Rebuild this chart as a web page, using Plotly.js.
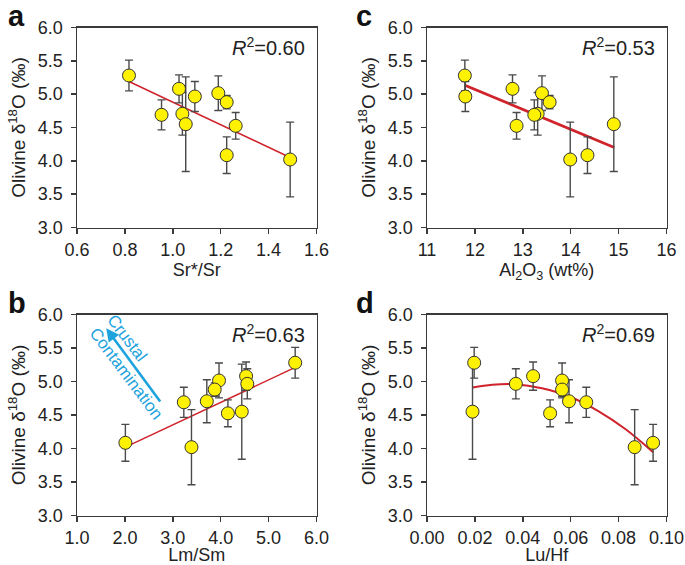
<!DOCTYPE html>
<html>
<head>
<meta charset="utf-8">
<script src="https://cdn.plot.ly/plotly-3.0.1.min.js"></script>
<style>
html,body{margin:0;padding:0;background:#fff;}
#chart{width:685px;height:565px;}
</style>
</head>
<body>
<div id="chart"></div>
<script>
// Samples (same 11 samples in every panel)
const d18O   = [5.28, 5.08, 5.015, 4.965, 4.88, 4.705, 4.69, 4.55, 4.525, 4.085, 4.02];
const d18Oerr = [0.23, 0.21, 0.26, 0.225, 0.10, 0.32, 0.225, 0.71, 0.20, 0.275, 0.56];
const srRatio = [0.817, 1.026, 1.19, 1.092, 1.225, 1.04, 0.953, 1.054, 1.2625, 1.225, 1.49];
const al2o3   = [11.79, 12.785, 13.40, 11.80, 13.56, 13.31, 13.24, 14.90, 12.87, 14.35, 13.99];
const lmSm    = [5.555, 4.53, 3.965, 4.555, 3.875, 3.71, 3.23, 4.44, 4.15, 2.01, 3.39];
const luHf    = [0.0197, 0.0443, 0.0564, 0.0371, 0.0564, 0.0593, 0.0665, 0.019, 0.0514, 0.0944, 0.0867];

// Fit lines
const fitA_x = [0.817, 1.49],  fitA_y = [5.19, 4.05];
const fitC_x = [11.79, 14.91], fitC_y = [5.135, 4.20];
const fitB_x = [2.01, 5.555],  fitB_y = [4.02, 5.21];
const fitD_x = [0.019, 0.0272, 0.0369, 0.048, 0.0592, 0.0717, 0.0828, 0.0944];
const fitD_y = [4.91, 4.952, 4.96, 4.90, 4.78, 4.555, 4.29, 3.945];

const r2Labels = ['0.60', '0.53', '0.63', '0.69'];
const panelLetters = ['a', 'c', 'b', 'd'];
const xTitles = ['Sr*/Sr', 'Al<sub>2</sub>O<sub>3</sub> (wt%)', 'Lm/Sm', 'Lu/Hf'];
const yTitle = 'Olivine δ<sup>18</sup>O (‰)';

const W = 685, H = 565;
const FONT = 'Liberation Sans, Arial, Helvetica, sans-serif';
const LINE = '#3a3a3a';
const RED = '#d0232b';
const YEL = '#fff200';
const ERR = '#4a4a4a';
const FS = 18;

const px2x = p => p / W;
const px2y = p => 1 - p / H;
const colX = [[77, 316.5], [427, 666.5]];
const rowY = [[27.5, 227.5], [314.5, 515.5]];

const panels = [
  {xs: srRatio, fx: fitA_x, fy: fitA_y, col: 0, row: 0, range: [0.6, 1.6], dtick: 0.2, fmt: '.1f', lw: 1.5},
  {xs: al2o3,   fx: fitC_x, fy: fitC_y, col: 1, row: 0, range: [11, 16],  dtick: 1,   fmt: 'd',   lw: 2.8},
  {xs: lmSm,    fx: fitB_x, fy: fitB_y, col: 0, row: 1, range: [1, 6],   dtick: 1,   fmt: '.1f', lw: 1.5},
  {xs: luHf,    fx: fitD_x, fy: fitD_y, col: 1, row: 1, range: [0, 0.1], dtick: 0.02, fmt: '.2f', lw: 2},
];

const traces = [];
const layout = {
  width: W, height: H,
  margin: {l: 0, r: 0, t: 0, b: 0},
  paper_bgcolor: '#fff', plot_bgcolor: '#fff',
  showlegend: false,
  font: {family: FONT, size: FS, color: '#222'},
  annotations: [],
};

panels.forEach((p, i) => {
  const n = i + 1;
  const xa = n === 1 ? 'x' : 'x' + n;
  const ya = n === 1 ? 'y' : 'y' + n;
  const xk = n === 1 ? 'xaxis' : 'xaxis' + n;
  const yk = n === 1 ? 'yaxis' : 'yaxis' + n;
  traces.push({
    x: p.fx, y: p.fy, xaxis: xa, yaxis: ya, mode: 'lines', type: 'scatter',
    line: {color: RED, width: p.lw, shape: p.fx.length > 2 ? 'spline' : 'linear'},
    hoverinfo: 'skip'
  });
  traces.push({
    x: p.xs, y: d18O, xaxis: xa, yaxis: ya, mode: 'markers', type: 'scatter',
    error_y: {type: 'data', array: d18Oerr, visible: true, color: ERR, thickness: 1.4, width: 4},
    marker: {color: YEL, size: 13, line: {color: '#333', width: 1}},
    cliponaxis: false
  });
  const cx = colX[p.col], ry = rowY[p.row];
  layout[xk] = {
    domain: [px2x(cx[0]), px2x(cx[1])], anchor: ya,
    range: p.range, dtick: p.dtick, tick0: p.range[0], tickformat: p.fmt,
    showline: true, mirror: true, linecolor: LINE, linewidth: 1.5,
    ticks: 'outside', ticklen: 5, tickwidth: 1.5, tickcolor: LINE,
    showgrid: false, zeroline: false,
    tickfont: {family: FONT, size: FS, color: '#222'},
    title: {text: xTitles[i], font: {family: FONT, size: FS, color: '#222'}, standoff: 5}
  };
  layout[yk] = {
    domain: [px2y(ry[1]), px2y(ry[0])], anchor: xa,
    range: [3, 6], dtick: 0.5, tick0: 3, tickformat: '.1f',
    showline: true, mirror: true, linecolor: LINE, linewidth: 1.5,
    ticks: 'outside', ticklen: 5, tickwidth: 1.5, tickcolor: LINE,
    showgrid: false, zeroline: false, ticklabelstandoff: 4,
    tickfont: {family: FONT, size: FS, color: '#222'},
    title: {text: yTitle, font: {family: FONT, size: FS + 1, color: '#222'}, standoff: 7}
  };
  // R^2 label
  layout.annotations.push({
    xref: 'paper', yref: 'paper',
    x: px2x(cx[1] - 10), y: px2y(ry[0] + 19),
    xanchor: 'right', yanchor: 'middle', showarrow: false,
    text: '<i>R</i><sup>2</sup>=' + r2Labels[i],
    font: {family: FONT, size: 20, color: '#222'}
  });
  // panel letter
  layout.annotations.push({
    xref: 'paper', yref: 'paper',
    x: px2x(p.col === 0 ? 6 : 354), y: px2y(ry[0] - 12),
    xanchor: 'left', yanchor: 'middle', showarrow: false,
    text: '<b>' + panelLetters[i] + '</b>',
    font: {family: FONT, size: 29, color: '#111'}
  });
});

// Crustal contamination arrow (panel b = axes x3/y3)
layout.annotations.push({
  xref: 'x3', yref: 'y3', axref: 'x3', ayref: 'y3',
  x: 1.61, y: 5.795, ax: 2.76, ay: 4.68,
  showarrow: true, arrowhead: 2, arrowsize: 1, arrowwidth: 2.6,
  arrowcolor: '#1ea3dd', text: ''
});
layout.annotations.push({
  xref: 'x3', yref: 'y3', x: 2.22, y: 5.21,
  text: 'Crustal<br>Contamination', showarrow: false, textangle: 53,
  align: 'left', font: {family: FONT, size: 17, color: '#1ea3dd'}
});

Plotly.newPlot('chart', traces, layout, {staticPlot: true, displayModeBar: false});
</script>
</body>
</html>
